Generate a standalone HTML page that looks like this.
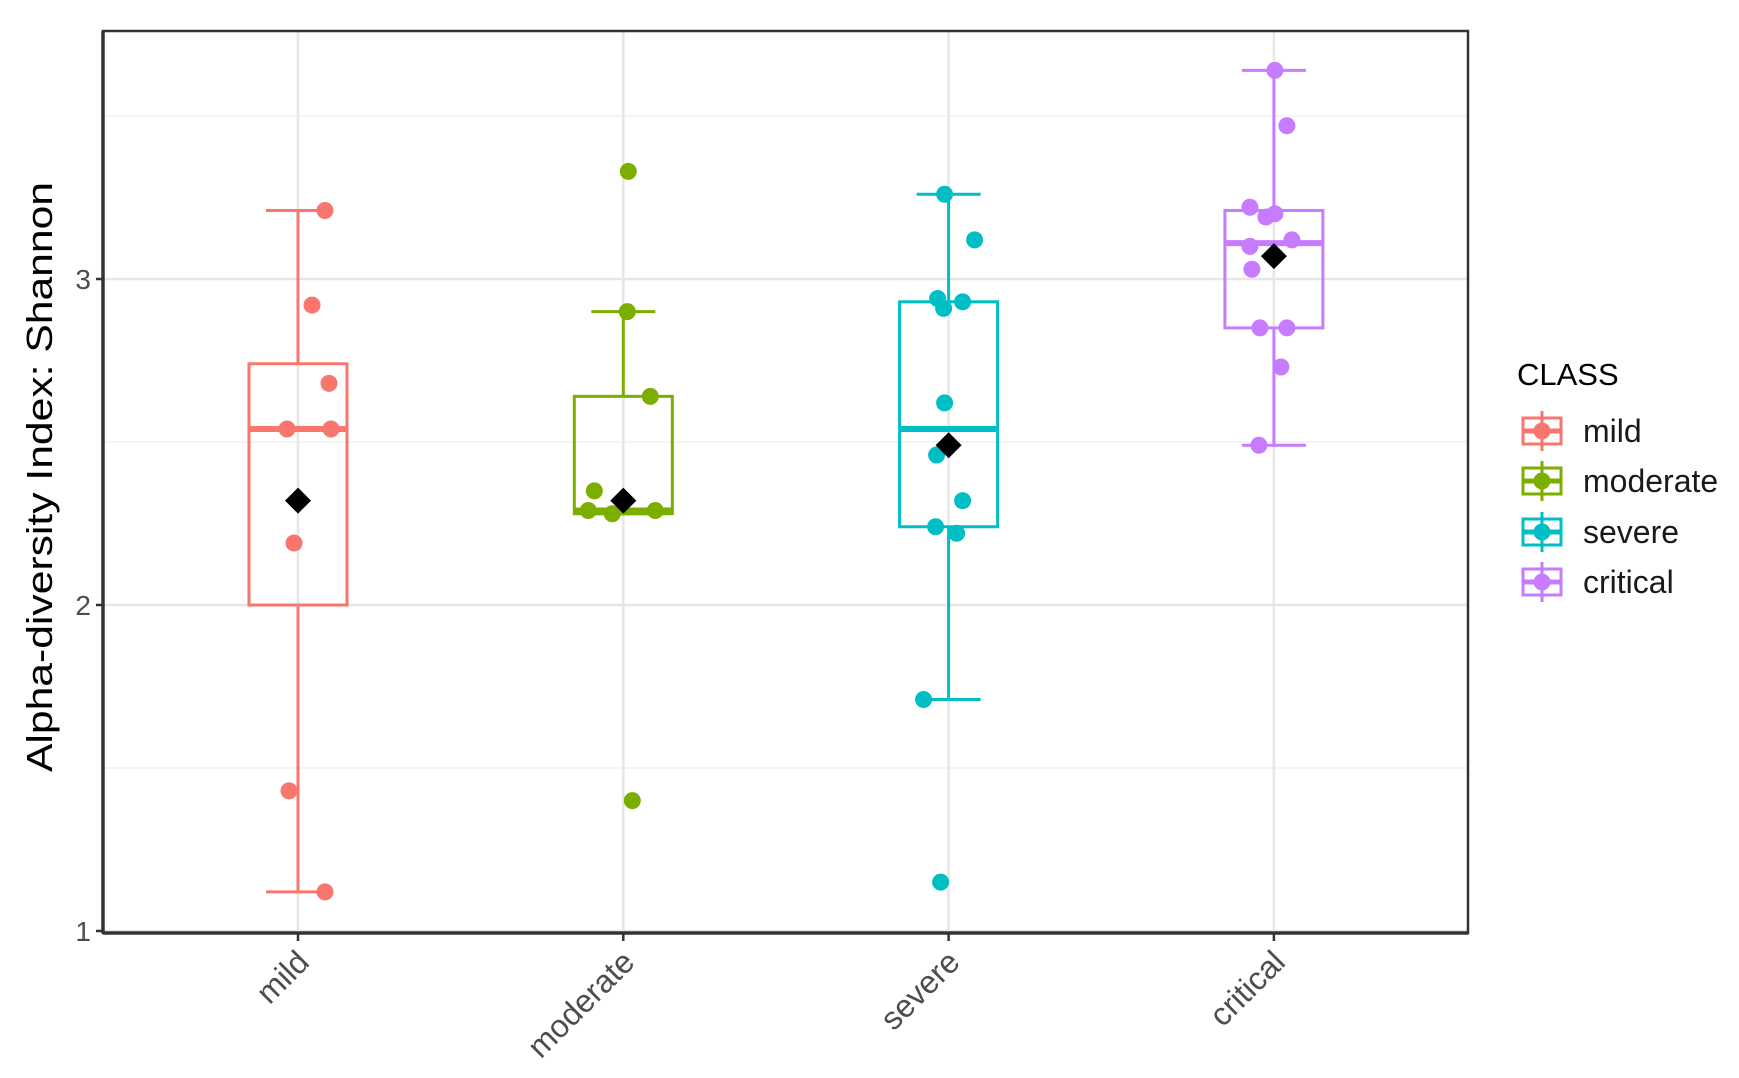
<!DOCTYPE html>
<html><head><meta charset="utf-8"><style>
html,body{margin:0;padding:0;background:#fff}
svg{display:block;font-family:"Liberation Sans",Arial,sans-serif}
</style></head><body>
<svg id="chart" width="1739" height="1078" viewBox="0 0 1739 1078"></svg>
<script>
const categories = ["mild","moderate","severe","critical"];
const colors = ["#F8766D","#7CAE00","#00BFC4","#C77CFF"];
const whiskerLow = [1.12, 2.28, 1.71, 2.49];
const q1 = [2.00, 2.28, 2.24, 2.85];
const medians = [2.54, 2.29, 2.54, 3.11];
const q3 = [2.74, 2.64, 2.93, 3.21];
const whiskerHigh = [3.21, 2.90, 3.26, 3.64];
const means = [2.32, 2.32, 2.49, 3.07];
const pointsMild = [3.21, 2.92, 2.68, 2.54, 2.54, 2.19, 1.43, 1.12];
const jitterMild = [0.27, 0.14, 0.31, -0.11, 0.33, -0.04, -0.09, 0.27];
const pointsModerate = [3.33, 2.90, 2.64, 2.35, 2.28, 2.29, 2.29, 1.40];
const jitterModerate = [0.05, 0.04, 0.27, -0.29, -0.11, -0.35, 0.32, 0.09];
const pointsSevere = [3.26, 3.12, 2.94, 2.91, 2.93, 2.62, 2.46, 2.32, 2.24, 2.22, 1.71, 1.15];
const jitterSevere = [-0.04, 0.26, -0.11, -0.05, 0.14, -0.04, -0.12, 0.14, -0.13, 0.08, -0.25, -0.08];
const pointsCritical = [3.64, 3.47, 3.22, 3.19, 3.20, 3.10, 3.12, 3.03, 2.85, 2.85, 2.73, 2.49];
const jitterCritical = [0.01, 0.13, -0.24, -0.08, 0.01, -0.24, 0.18, -0.22, -0.14, 0.13, 0.07, -0.15];
const yTicks = [1, 2, 3];
const yMinor = [1.5, 2.5, 3.5];

const allPoints = [pointsMild, pointsModerate, pointsSevere, pointsCritical];
const allJitter = [jitterMild, jitterModerate, jitterSevere, jitterCritical];

const NS = "http://www.w3.org/2000/svg";
const svg = document.getElementById("chart");
const P = {l:103, r:1468, t:31, b:933};
const Y1 = 931, UNIT = 326;
function yScale(v){ return Y1 - (v - 1) * UNIT; }
const catX0 = 298, catStep = 325.3;
function xScale(i){ return catX0 + i * catStep; }
const jitterPx = 100;

function mk(tag, attrs, parent){
  const el = document.createElementNS(NS, tag);
  for (const k in attrs) el.setAttribute(k, attrs[k]);
  (parent || svg).appendChild(el);
  return el;
}

const bg = mk("rect", {x:P.l, y:P.t, width:P.r-P.l, height:P.b-P.t, fill:"#fff"});



yMinor.forEach(v => {
  const g = mk("line", {x1:P.l, x2:P.r, y1:yScale(v), y2:yScale(v), stroke:"#f0f0f0", "stroke-width":1.5});
  
  
});
yTicks.forEach(v => {
  const g = mk("line", {x1:P.l, x2:P.r, y1:yScale(v), y2:yScale(v), stroke:"#e6e6e6", "stroke-width":2.5});
  
  
});
categories.forEach((c, i) => {
  const g = mk("line", {x1:xScale(i), x2:xScale(i), y1:P.t, y2:P.b, stroke:"#e6e6e6", "stroke-width":2.5});
  
  
});

categories.forEach((c, i) => {
  const x = xScale(i), col = colors[i];
  const grp = mk("g", {});
  
  
  mk("line", {x1:x, x2:x, y1:yScale(whiskerHigh[i]), y2:yScale(q3[i]), stroke:col, "stroke-width":3}, grp);
  mk("line", {x1:x, x2:x, y1:yScale(q1[i]), y2:yScale(whiskerLow[i]), stroke:col, "stroke-width":3}, grp);
  mk("line", {x1:x-32, x2:x+32, y1:yScale(whiskerHigh[i]), y2:yScale(whiskerHigh[i]), stroke:col, "stroke-width":3}, grp);
  mk("line", {x1:x-32, x2:x+32, y1:yScale(whiskerLow[i]), y2:yScale(whiskerLow[i]), stroke:col, "stroke-width":3}, grp);
  mk("rect", {x:x-49, y:yScale(q3[i]), width:98, height:yScale(q1[i])-yScale(q3[i]), fill:"none", stroke:col, "stroke-width":3}, grp);
  mk("line", {x1:x-49, x2:x+49, y1:yScale(medians[i]), y2:yScale(medians[i]), stroke:col, "stroke-width":6}, grp);
});

categories.forEach((c, i) => {
  allPoints[i].forEach((v, j) => {
    const p = mk("circle", {cx:xScale(i) + allJitter[i][j]*jitterPx, cy:yScale(v), r:8.5, fill:colors[i]});
    
    
  });
});

categories.forEach((c, i) => {
  const x = xScale(i), y = yScale(means[i]), d = 13;
  const m = mk("polygon", {points:`${x},${y-d} ${x+d},${y} ${x},${y+d} ${x-d},${y}`, fill:"#000"});
  
  
});

const border = mk("rect", {x:P.l, y:P.t, width:P.r-P.l, height:P.b-P.t, fill:"none", stroke:"#333", "stroke-width":2.5});


const xAxisLine = mk("line", {x1:P.l, x2:P.r, y1:P.b, y2:P.b, stroke:"#333", "stroke-width":3.5});


const yAxisLine = mk("line", {x1:P.l, x2:P.l, y1:P.t, y2:P.b, stroke:"#333", "stroke-width":3.5});



yTicks.forEach(v => {
  const t = mk("line", {x1:P.l-7, x2:P.l, y1:yScale(v), y2:yScale(v), stroke:"#333", "stroke-width":2.5});
  
  
  const lb = mk("text", {x:P.l-12, y:yScale(v)+10, "text-anchor":"end", "font-size":28, fill:"#4d4d4d"});
  lb.textContent = v;
  
  
});
categories.forEach((c, i) => {
  const x = xScale(i);
  const t = mk("line", {x1:x, x2:x, y1:P.b, y2:P.b+8, stroke:"#333", "stroke-width":2.5});
  
  
  const ax = x + 13, ay = P.b + 31;
  const lb = mk("text", {x:ax, y:ay, "text-anchor":"end", "font-size":32, fill:"#4d4d4d", transform:`rotate(-45 ${ax} ${ay})`});
  lb.textContent = c;
  
  
});

const yt = mk("text", {x:0, y:0, "text-anchor":"middle", "font-size":36, fill:"#000", transform:"translate(52 477) rotate(-90)", textLength:590, lengthAdjust:"spacingAndGlyphs"});
yt.textContent = "Alpha-diversity Index: Shannon";



const lt = mk("text", {x:1517, y:385, "font-size":31, fill:"#000"});
lt.textContent = "CLASS";


const legendY = [431, 481, 532, 582];
categories.forEach((c, i) => {
  const y = legendY[i], col = colors[i];
  const g = mk("g", {});
  
  
  mk("line", {x1:1542, x2:1542, y1:y-20, y2:y+20, stroke:col, "stroke-width":3}, g);
  mk("rect", {x:1523, y:y-13, width:38, height:26, fill:"#fff", stroke:col, "stroke-width":3}, g);
  mk("line", {x1:1542, x2:1542, y1:y-13, y2:y+13, stroke:col, "stroke-width":3}, g);
  mk("line", {x1:1523, x2:1561, y1:y, y2:y, stroke:col, "stroke-width":5}, g);
  mk("circle", {cx:1542, cy:y, r:8.5, fill:col}, g);
  const tx = mk("text", {x:1583, y:y+11, "font-size":32, fill:"#1a1a1a"}, g);
  tx.textContent = c;
});
</script>
</body></html>
